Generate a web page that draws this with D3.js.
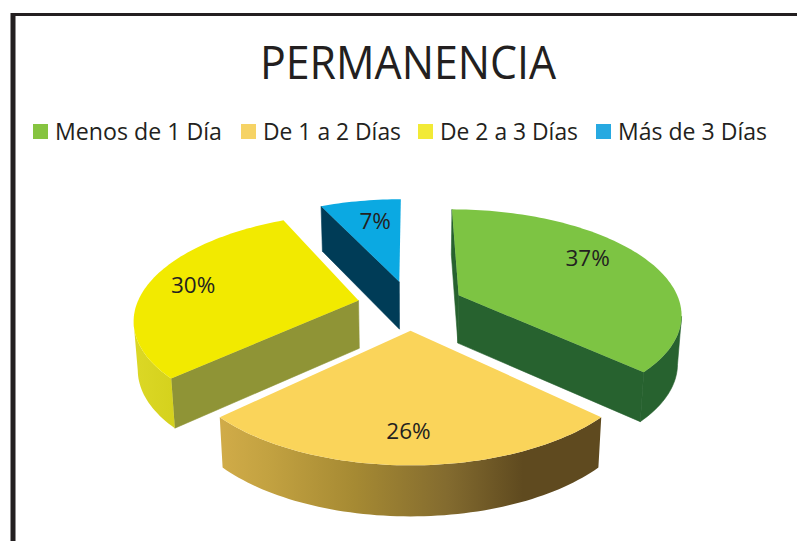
<!DOCTYPE html>
<html><head><meta charset="utf-8">
<script src="https://cdn.jsdelivr.net/npm/d3@7/dist/d3.min.js"></script>
<style>html,body{margin:0;padding:0;background:#fff}svg{display:block}text{font-family:"Open Sans",sans-serif;fill:#231f20}</style>
</head><body><svg id="c" width="797" height="541"></svg>
<script>
const categories = ["Menos de 1 Día","De 1 a 2 Días","De 2 a 3 Días","Más de 3 Días"];
const values = [37,26,30,7];
const topColors = ["#7dc443","#fad45a","#f2ea00","#0ba9e2"];
const legendColors = ["#86c440","#f6d365","#f2ea36","#27a9e1"];
const cutColors = ["#27622f","#a88f35","#8f9436","#003c57"];
const wallColors = ["#27622f","url(#wallOrange)","url(#wallYellow)","#003c57"];

const W=797,H=541, cx=410.5, cy=305, kPersp=0.164, explode=0.24, depth=48, taper=0.985, labelR=0.72;
const sx=d3.scaleLinear().domain([-1,1]).range([cx-222,cx+222]);
const sy=d3.scaleLinear().domain([-1,1]).range([cy-103,cy+103]);
const project=(u,v)=>{const w=1-kPersp*v;return [sx(u/w),sy(v/w)];};
const base=(p,v)=>[cx+(p[0]-cx)*taper,p[1]+depth+2.5*v];

const svg=d3.select("#c");
const defs=svg.append("defs");
function grad(id,stops){
  const g=defs.append("linearGradient").attr("id",id).attr("gradientUnits","userSpaceOnUse")
    .attr("x1",stops.x1).attr("x2",stops.x2).attr("y1",0).attr("y2",0);
  stops.s.forEach(([o,c])=>g.append("stop").attr("offset",o).attr("stop-color",c));
}
grad("wallOrange",{x1:222,x2:598,s:[[0,"#d0ab48"],[0.12,"#c3a241"],[0.35,"#a68a33"],[0.6,"#836b2f"],[0.8,"#5f4a1f"],[1,"#5f4a1f"]]});
grad("wallYellow",{x1:133,x2:178,s:[[0,"#dcd826"],[1,"#d4d11c"]]});

// frame
svg.append("path").attr("d",`M${W},14.5H12.5`).attr("fill","none").attr("stroke","#231f20").attr("stroke-width",3);
svg.append("line").attr("x1",13).attr("x2",13).attr("y1",13).attr("y2",H).attr("stroke","#231f20").attr("stroke-width",5);

// title
svg.append("text").attr("x",408).attr("y",79).attr("text-anchor","middle").attr("font-size",46)
  .attr("textLength",296).attr("lengthAdjust","spacingAndGlyphs").text("PERMANENCIA");

// legend
const legendX=[33,241,418,596], legendW=[167,138,138,149];
const lg=svg.selectAll(".lg").data(categories).join("g").attr("transform",(d,i)=>`translate(${legendX[i]},124)`);
lg.append("rect").attr("width",15).attr("height",15).attr("fill",(d,i)=>legendColors[i]);
lg.append("text").attr("x",22).attr("y",15.5).attr("font-size",23.5)
  .attr("textLength",(d,i)=>legendW[i]).attr("lengthAdjust","spacingAndGlyphs").text(d=>d);

// pie
const arcs=d3.pie().sort(null).value(d=>d)(values);
const line=d3.line();
const slices=arcs.map((a,i)=>{
  const mid=(a.startAngle+a.endAngle)/2;
  const ox=Math.sin(mid)*explode, oy=-Math.cos(mid)*explode;
  const n=Math.max(4,Math.ceil((a.endAngle-a.startAngle)*40));
  const rim=d3.range(n+1).map(j=>{
    const t=a.startAngle+(a.endAngle-a.startAngle)*j/n;
    const v=oy-Math.cos(t);
    return {p:project(ox+Math.sin(t),v),v};
  });
  return {i,mid,ox,oy,rim,apex:{p:project(ox,oy),v:oy}};
});
const drawOrder=[3,0,2,1];
const g=svg.append("g");
drawOrder.forEach(i=>{
  const s=slices[i], r=s.rim, q=g.append("g");
  const quad=(pts)=>pts.map(o=>o.p).concat(pts.slice().reverse().map(o=>base(o.p,o.v)));
  const M=r[Math.floor(r.length/2)].p, A=s.apex.p;
  // cut faces turned towards the viewer
  [r[0],r[r.length-1]].forEach(b=>{
    const B=b.p, dx=B[0]-A[0];
    if(Math.abs(dx)<2) return;
    if(M[1]<A[1]+(B[1]-A[1])*(M[0]-A[0])/dx)
      q.append("path").attr("d",line(quad([s.apex,b]))+"Z").attr("fill",cutColors[i]).attr("stroke",cutColors[i]).attr("stroke-width",.6);
  });
  // outer wall: only the front-facing run of the rim (x decreasing along the clockwise sweep)
  const front=r.filter((o,j)=>(j<r.length-1&&r[j+1].p[0]<o.p[0])||(j>0&&o.p[0]<r[j-1].p[0]));
  if(front.length>1){
    const w=q.append("path").attr("d",line(quad(front))+"Z").attr("fill",wallColors[i]);
    if(!wallColors[i].startsWith("url")) w.attr("stroke",wallColors[i]).attr("stroke-width",.6);
  }
  q.append("path").attr("d",line([s.apex.p,...r.map(o=>o.p)])+"Z").attr("fill",topColors[i]);
});

// labels
const total=d3.sum(values);
const labelNudge=[[-7,-10],[-2,9],[-14,-2],[5,0]];
slices.forEach((s,i)=>{
  const u=s.ox+Math.sin(s.mid)*labelR, v=s.oy-Math.cos(s.mid)*labelR;
  const p=project(u,v);
  svg.append("text").attr("x",p[0]+labelNudge[i][0]).attr("y",p[1]+labelNudge[i][1]+8)
    .attr("text-anchor","middle").attr("font-size",22.5).text(d3.format(".0%")(values[i]/total));
});
</script></body></html>
